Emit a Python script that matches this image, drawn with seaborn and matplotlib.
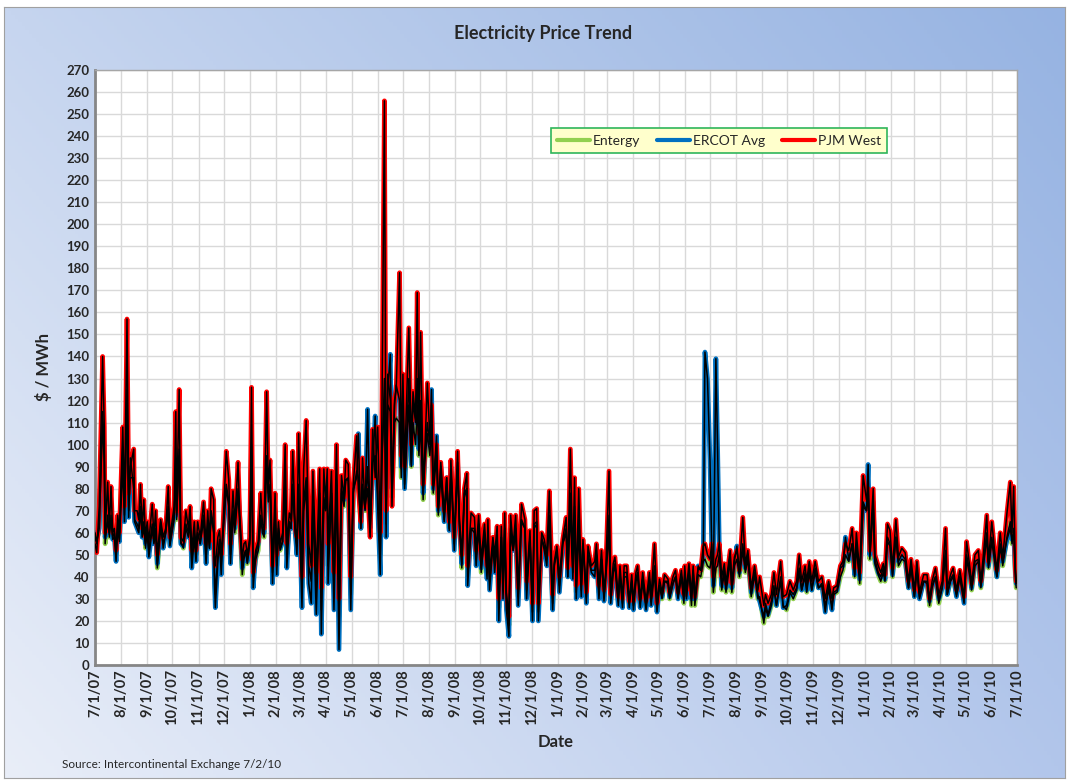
import numpy as np
import pandas as pd
import matplotlib
matplotlib.use("Agg")
import matplotlib.pyplot as plt
import matplotlib.dates as mdates
import seaborn as sns

# day offsets from 7/1/07
days = [0, 2, 5, 9, 11, 12, 15, 17, 19, 21, 23, 25, 27, 29, 33, 35, 38, 40, 42, 46,
        47, 50, 52, 54, 56, 58, 60, 62, 64, 68, 70, 72, 74, 78, 81, 84, 87, 89, 94, 96,
        97, 100, 102, 105, 108, 111, 113, 115, 118, 120, 122, 125, 129, 132, 134, 136, 138, 141, 142, 143,
        146, 148, 150, 152, 156, 159, 161, 164, 166, 170, 172, 175, 177, 179, 181, 184, 186, 188, 191, 194,
        197, 199, 201, 204, 206, 208, 211, 214, 216, 218, 220, 223, 226, 228, 231, 233, 235, 238, 240, 242,
        246, 248, 251, 254, 257, 259, 263, 267, 269, 272, 274, 276, 277, 281, 284, 287, 290, 293, 296, 298,
        301, 304, 307, 311, 313, 316, 318, 321, 324, 327, 330, 333, 336, 339, 341, 344, 346, 348, 351, 353,
        356, 358, 362, 364, 366, 368, 373, 376, 378, 381, 383, 385, 387, 390, 392, 395, 398, 400, 402, 406,
        408, 411, 415, 418, 421, 423, 427, 431, 433, 436, 439, 442, 443, 447, 451, 453, 456, 459, 463, 466,
        467, 469, 473, 475, 478, 480, 483, 485, 487, 489, 492, 494, 497, 500, 503, 507, 511, 513, 517, 520,
        522, 525, 527, 531, 534, 537, 540, 544, 546, 549, 552, 556, 560, 562, 565, 568, 570, 572, 575, 578,
        580, 584, 586, 590, 594, 596, 599, 602, 605, 607, 611, 613, 616, 618, 622, 624, 627, 629, 632, 635,
        638, 640, 643, 645, 648, 651, 655, 659, 661, 665, 668, 671, 674, 677, 681, 683, 687, 690, 693, 697,
        700, 701, 703, 706, 709, 711, 713, 717, 720, 723, 725, 728, 731, 733, 735, 738, 740, 742, 745, 748,
        750, 755, 757, 760, 763, 766, 770, 773, 776, 780, 784, 788, 790, 795, 797, 800, 804, 807, 810, 815,
        818, 822, 826, 830, 834, 837, 840, 844, 846, 849, 852, 856, 860, 864, 868, 872, 876, 878, 882, 886,
        889, 892, 896, 900, 903, 905, 909, 913, 917, 919, 921, 925, 927, 931, 934, 937, 939, 942, 945, 948,
        952, 955, 959, 963, 967, 970, 974, 977, 980, 985, 989, 992, 995, 999, 1003, 1007, 1011, 1013, 1017, 1020,
        1024, 1028, 1033, 1036, 1040, 1042, 1046, 1050, 1053, 1056, 1060, 1062, 1066, 1069, 1072, 1076, 1079, 1084, 1088, 1090,
        1092, 1094, 1095]

pjm_west = [55, 51, 72, 140, 108, 60, 83, 62, 81, 60, 62, 52, 68, 60, 108, 72, 157, 78, 90, 98,
            70, 70, 66, 82, 62, 75, 58, 65, 56, 73, 58, 70, 50, 66, 58, 62, 81, 58, 72, 115,
            70, 125, 58, 56, 70, 62, 72, 52, 65, 52, 65, 58, 74, 55, 70, 56, 80, 75, 50, 45,
            58, 61, 50, 62, 97, 84, 55, 79, 64, 92, 68, 48, 55, 56, 50, 58, 126, 42, 52, 56,
            78, 64, 62, 124, 80, 93, 45, 78, 50, 65, 55, 60, 100, 55, 69, 66, 97, 62, 58, 105,
            40, 89, 111, 55, 45, 88, 42, 89, 35, 89, 74, 89, 55, 88, 42, 100, 30, 86, 76, 93,
            91, 40, 82, 104, 80, 65, 94, 72, 80, 58, 107, 85, 108, 60, 112, 256, 70, 132, 120, 72,
            120, 125, 178, 95, 132, 90, 153, 100, 124, 112, 169, 105, 151, 82, 97, 128, 103, 118, 82, 100,
            72, 92, 70, 85, 65, 93, 58, 97, 68, 50, 80, 87, 45, 69, 67, 52, 68, 48, 64, 45,
            66, 42, 58, 50, 63, 30, 63, 38, 69, 33, 22, 68, 54, 68, 35, 73, 66, 38, 61, 28,
            70, 71, 28, 60, 57, 50, 79, 32, 47, 54, 40, 57, 67, 44, 98, 45, 85, 36, 80, 37,
            57, 33, 54, 45, 47, 55, 36, 52, 34, 42, 88, 32, 46, 49, 31, 45, 30, 45, 45, 29,
            41, 29, 42, 45, 30, 42, 29, 42, 31, 55, 28, 39, 33, 41, 39, 33, 40, 43, 33, 43,
            32, 45, 34, 46, 32, 45, 31, 44, 43, 54, 55, 50, 48, 55, 40, 48, 50, 55, 40, 46,
            37, 52, 37, 49, 52, 43, 67, 46, 52, 35, 45, 34, 40, 27, 32, 28, 32, 42, 32, 47,
            31, 32, 38, 34, 38, 50, 38, 45, 38, 47, 38, 47, 38, 40, 30, 38, 30, 35, 36, 45,
            47, 55, 52, 62, 44, 60, 42, 86, 75, 80, 52, 80, 50, 45, 42, 46, 41, 64, 61, 44,
            66, 49, 53, 51, 38, 48, 34, 47, 33, 41, 41, 30, 38, 44, 32, 38, 62, 35, 41, 44,
            34, 43, 31, 56, 44, 37, 50, 52, 38, 50, 68, 47, 65, 53, 43, 60, 49, 69, 83, 60,
            81, 44, 38]

ercot_avg = [60, 56, 62, 115, 95, 58, 65, 60, 66, 57, 58, 47, 62, 56, 90, 65, 125, 67, 94, 80,
             65, 62, 60, 70, 58, 62, 55, 60, 49, 62, 55, 60, 46, 65, 53, 60, 72, 54, 69, 85,
             68, 95, 55, 54, 62, 58, 65, 44, 58, 47, 60, 55, 66, 46, 62, 53, 68, 60, 37, 26,
             47, 56, 41, 60, 80, 72, 46, 68, 62, 80, 67, 44, 50, 52, 47, 57, 95, 35, 50, 55,
             65, 62, 60, 90, 78, 80, 37, 68, 41, 62, 53, 56, 80, 44, 65, 62, 80, 60, 50, 78,
             26, 70, 80, 37, 28, 72, 23, 76, 14, 75, 71, 80, 37, 78, 25, 82, 7, 80, 75, 84,
             85, 25, 80, 85, 105, 62, 80, 71, 116, 62, 90, 113, 72, 41, 90, 130, 58, 125, 141, 80,
             118, 127, 120, 90, 120, 80, 130, 91, 120, 110, 130, 98, 120, 78, 95, 110, 100, 125, 80, 104,
             70, 90, 65, 85, 61, 90, 52, 92, 65, 46, 78, 80, 36, 62, 60, 45, 62, 44, 58, 39,
             58, 34, 55, 42, 56, 20, 58, 30, 60, 25, 13, 60, 52, 60, 27, 65, 62, 30, 58, 20,
             62, 64, 20, 58, 52, 45, 65, 25, 45, 52, 33, 55, 60, 40, 70, 39, 68, 30, 62, 31,
             55, 28, 50, 42, 40, 50, 30, 48, 29, 39, 60, 28, 42, 45, 27, 41, 26, 40, 40, 26,
             38, 25, 38, 40, 26, 38, 25, 38, 27, 42, 24, 36, 31, 38, 38, 31, 37, 40, 30, 40,
             30, 41, 30, 43, 30, 43, 30, 45, 43, 48, 142, 130, 93, 55, 36, 139, 99, 55, 36, 44,
             35, 50, 35, 47, 54, 42, 55, 44, 50, 33, 42, 32, 29, 22, 28, 23, 29, 36, 27, 40,
             26, 27, 34, 32, 35, 44, 34, 42, 34, 44, 34, 44, 35, 37, 24, 36, 25, 33, 34, 44,
             45, 58, 48, 55, 41, 55, 39, 72, 70, 91, 50, 74, 48, 42, 40, 44, 39, 58, 55, 41,
             58, 47, 50, 48, 35, 45, 31, 44, 30, 38, 38, 29, 36, 40, 30, 35, 52, 32, 39, 41,
             31, 40, 28, 50, 42, 35, 47, 48, 36, 46, 60, 45, 58, 50, 40, 55, 47, 57, 62, 57,
             60, 42, 37]

entergy = [58, 55, 64, 110, 92, 55, 68, 58, 68, 58, 60, 50, 64, 57, 99, 68, 120, 70, 85, 85,
           66, 64, 62, 72, 60, 65, 53, 62, 52, 64, 56, 62, 44, 62, 55, 60, 70, 55, 66, 90,
           66, 98, 56, 53, 64, 60, 66, 47, 60, 50, 60, 55, 68, 50, 64, 53, 70, 62, 42, 32,
           50, 57, 45, 58, 82, 74, 50, 70, 60, 78, 64, 41, 48, 52, 46, 55, 100, 40, 48, 52,
           68, 60, 58, 95, 74, 82, 42, 70, 45, 60, 52, 56, 84, 50, 64, 62, 82, 60, 54, 82,
           35, 74, 85, 45, 38, 74, 35, 78, 25, 76, 70, 78, 45, 78, 35, 84, 22, 78, 72, 84,
           84, 32, 78, 88, 85, 62, 82, 70, 90, 60, 92, 95, 78, 50, 95, 120, 64, 118, 115, 76,
           110, 112, 110, 85, 112, 82, 118, 90, 110, 100, 118, 95, 110, 75, 92, 105, 95, 108, 78, 95,
           68, 86, 66, 80, 62, 88, 55, 90, 64, 44, 76, 80, 40, 62, 62, 48, 64, 42, 60, 42,
           60, 38, 55, 46, 58, 26, 58, 34, 62, 30, 18, 62, 52, 62, 31, 66, 62, 34, 58, 24,
           64, 65, 24, 57, 54, 48, 68, 28, 46, 52, 36, 55, 62, 40, 78, 42, 72, 33, 66, 34,
           55, 31, 50, 43, 43, 50, 33, 48, 31, 40, 68, 30, 43, 46, 29, 42, 28, 42, 42, 28,
           38, 27, 39, 42, 28, 39, 27, 39, 29, 45, 26, 36, 30, 38, 37, 30, 37, 40, 31, 40,
           28, 42, 31, 43, 27, 42, 27, 41, 40, 47, 48, 45, 44, 50, 33, 44, 45, 50, 34, 42,
           33, 47, 33, 45, 48, 40, 52, 42, 48, 31, 41, 30, 31, 19, 26, 22, 27, 34, 27, 38,
           27, 25, 33, 30, 34, 42, 34, 40, 33, 42, 34, 42, 35, 36, 27, 34, 27, 32, 33, 40,
           43, 50, 47, 55, 40, 54, 37, 74, 70, 78, 48, 72, 46, 41, 38, 42, 38, 56, 54, 40,
           58, 45, 48, 47, 35, 44, 31, 43, 31, 38, 37, 27, 35, 40, 28, 35, 50, 32, 38, 40,
           32, 40, 30, 48, 40, 34, 45, 47, 35, 45, 58, 44, 56, 48, 40, 54, 45, 58, 65, 55,
           62, 40, 35]

series_names = ["Entergy", "ERCOT Avg", "PJM West"]
series_colors = ["#92d050", "#0070c0", "#ff0000"]

dates = pd.Timestamp("2007-07-01") + pd.to_timedelta(days, unit="D")
df = pd.DataFrame({"Date": dates, "Entergy": entergy,
                   "ERCOT Avg": ercot_avg, "PJM West": pjm_west})
long_df = df.melt(id_vars="Date", var_name="Series", value_name="Price")

sns.set_style("white")
plt.rcParams["font.family"] = ["Lato", "DejaVu Sans"]

fig = plt.figure(figsize=(10.69, 7.8), dpi=100)

# gradient chart background
bg = fig.add_axes([0.004, 0.003, 0.992, 0.988], zorder=-10)
h, w = 200, 300
yy, xx = np.mgrid[0:1:complex(0, h), 0:1:complex(0, w)]
tl = np.array([198, 213, 239]) / 255
tr = np.array([150, 179, 226]) / 255
bl = np.array([233, 238, 248]) / 255
br = np.array([178, 198, 235]) / 255
img = (tl * ((1 - xx) * (1 - yy))[..., None] + tr * (xx * (1 - yy))[..., None]
       + bl * ((1 - xx) * yy)[..., None] + br * (xx * yy)[..., None])
bg.imshow(img, aspect="auto", extent=[0, 1, 0, 1], origin="upper")
bg.set_xticks([])
bg.set_yticks([])
for s in bg.spines.values():
    s.set_color("#a0a0a0")
    s.set_linewidth(0.8)

ax = fig.add_axes([0.0889, 0.1474, 0.8625, 0.7629])
ax.set_facecolor("white")

for name, col in zip(series_names, series_colors):
    sub = long_df[long_df["Series"] == name]
    sns.lineplot(data=sub, x="Date", y="Price", color=col, linewidth=3.4,
                 ax=ax, label=name, zorder=3)
    ax.plot(sub["Date"], sub["Price"], color="black", linewidth=1.1, zorder=4)

ax.set_xlim(pd.Timestamp("2007-07-01"), pd.Timestamp("2010-07-01"))
ax.set_ylim(0, 270)
ax.set_yticks(range(0, 271, 10))
ax.xaxis.set_major_locator(mdates.MonthLocator())
ax.xaxis.set_major_formatter(plt.FuncFormatter(
    lambda v, pos: (lambda d: f"{d.month}/{d.day}/{d:%y}")(mdates.num2date(v))))
ax.grid(True, color="#d9d9d9", linewidth=1.0, zorder=0)
ax.set_axisbelow(True)
for lab in ax.get_xticklabels():
    lab.set_rotation(90)
ax.tick_params(axis="x", labelsize=10.5, pad=3, length=0)
ax.tick_params(axis="y", labelsize=9.5, pad=4, length=0)
for lab in ax.get_xticklabels() + ax.get_yticklabels():
    lab.set_fontweight("bold")

for side in ["left", "bottom"]:
    ax.spines[side].set_color("#868686")
    ax.spines[side].set_linewidth(2)
for side in ["top", "right"]:
    ax.spines[side].set_color("#a6a6a6")
    ax.spines[side].set_linewidth(1)

ax.set_xlabel("Date", fontsize=12, fontweight="bold", labelpad=6)
ax.set_ylabel("$ / MWh", fontsize=12, fontweight="bold", labelpad=10)

fig.text(0.508, 0.957, "Electricity Price Trend", ha="center", va="center",
         fontsize=13, fontweight="bold")
fig.text(0.058, 0.013, "Source: Intercontinental Exchange 7/2/10", ha="left",
         va="bottom", fontsize=8.5)

leg = ax.legend(loc="upper left", bbox_to_anchor=(0.494, 0.902), ncol=3,
                frameon=True, fancybox=False, fontsize=10, handlelength=2.4,
                columnspacing=1.2, borderpad=0.45, handletextpad=0.2,
                borderaxespad=0)
leg.get_frame().set_facecolor("#ffffcc")
leg.get_frame().set_edgecolor("#2fb55a")
leg.get_frame().set_linewidth(1.2)
leg.get_frame().set_alpha(1)
for line in leg.get_lines():
    line.set_linewidth(3)

fig.savefig("out.png", dpi=100)
